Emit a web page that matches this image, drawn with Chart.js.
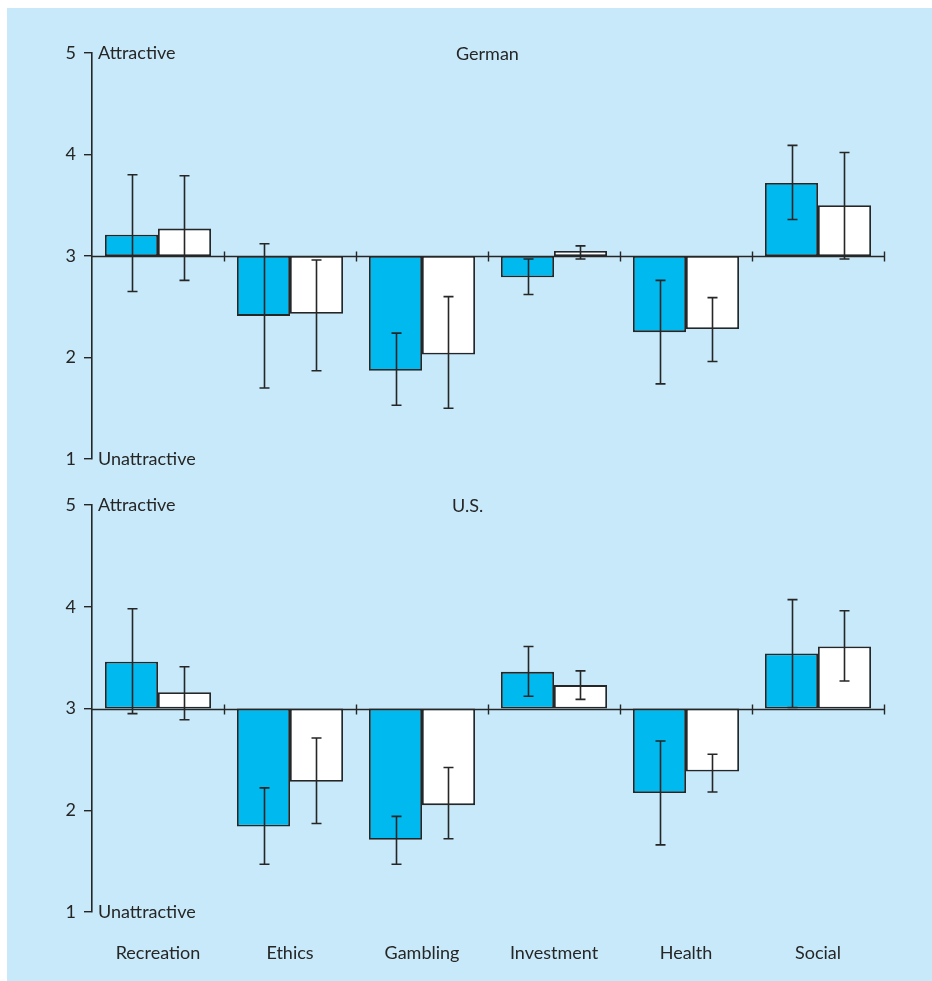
<!DOCTYPE html>
<html>
<head>
<meta charset="utf-8">
<script src="https://cdn.jsdelivr.net/npm/chart.js@4.4.1/dist/chart.umd.min.js"></script>
<style>
  html, body { margin: 0; padding: 0; background: #ffffff; }
  body { width: 932px; height: 981px; position: relative; overflow: hidden; }
  #panel { position: absolute; left: 7px; top: 8px; right: 0; bottom: 0; background: #c7e9f9; }
  .box { position: absolute; left: 0; width: 932px; }
  #boxTop { top: 0; height: 490px; }
  #boxBottom { top: 480px; height: 501px; }
</style>
</head>
<body>
<div id="panel"></div>
<div class="box" id="boxTop"><canvas id="chartGerman"></canvas></div>
<div class="box" id="boxBottom"><canvas id="chartUS"></canvas></div>
<script>
// Activity categories along the horizontal axis
const categories = ['Recreation', 'Ethics', 'Gambling', 'Investment', 'Health', 'Social'];
// Rating scale ticks (1 = unattractive, 5 = attractive, neutral midpoint 3)
const scaleTicks = [1, 2, 3, 4, 5];
const scaleMid = 3;

// German sample: mean ratings with lower / upper error limits
const germanBlue      = [3.21, 2.41, 1.87, 2.79, 2.25, 3.72];
const germanBlueLow   = [2.65, 1.70, 1.53, 2.62, 1.74, 3.36];
const germanBlueHigh  = [3.80, 3.12, 2.24, 2.97, 2.76, 4.09];
const germanWhite     = [3.27, 2.43, 2.03, 3.05, 2.28, 3.50];
const germanWhiteLow  = [2.76, 1.87, 1.50, 2.97, 1.96, 2.97];
const germanWhiteHigh = [3.79, 2.96, 2.60, 3.10, 2.59, 4.02];

// U.S. sample
const usBlue      = [3.46, 1.84, 1.71, 3.36, 2.17, 3.54];
const usBlueLow   = [2.95, 1.47, 1.47, 3.12, 1.66, 3.01];
const usBlueHigh  = [3.98, 2.22, 1.94, 3.61, 2.68, 4.07];
const usWhite     = [3.16, 2.28, 2.05, 3.23, 2.38, 3.61];
const usWhiteLow  = [2.89, 1.87, 1.72, 3.09, 2.18, 3.27];
const usWhiteHigh = [3.41, 2.71, 2.42, 3.37, 2.55, 3.96];

const INK = '#262626';
const FONT = 'Lato, "Open Sans", sans-serif';

// Bars float from the neutral midpoint to the mean
const fromMid = arr => arr.map(v => [scaleMid, v]);

// Error bars with caps, drawn over the bars
const errorBars = {
  id: 'errorBars',
  afterDatasetsDraw(chart) {
    const { ctx } = chart;
    const y = chart.scales.y;
    chart.data.datasets.forEach((ds, di) => {
      const meta = chart.getDatasetMeta(di);
      meta.data.forEach((bar, i) => {
        const x = Math.round(bar.x) + 0.5;
        const yl = y.getPixelForValue(ds.errLow[i]);
        const yh = y.getPixelForValue(ds.errHigh[i]);
        ctx.save();
        ctx.strokeStyle = INK;
        ctx.lineWidth = 1.6;
        ctx.beginPath();
        ctx.moveTo(x, yh); ctx.lineTo(x, yl);
        ctx.moveTo(x - 5, yh); ctx.lineTo(x + 5, yh);
        ctx.moveTo(x - 5, yl); ctx.lineTo(x + 5, yl);
        ctx.stroke();
        ctx.restore();
      });
    });
  }
};

// Midpoint baseline ticks at category boundaries, anchor words and panel title
const decorations = {
  id: 'decorations',
  afterDatasetsDraw(chart, args, opts) {
    const { ctx, chartArea } = chart;
    const x = chart.scales.x, y = chart.scales.y;
    const y3 = Math.round(y.getPixelForValue(scaleMid)) + 0.5;
    ctx.save();
    ctx.strokeStyle = INK;
    ctx.lineWidth = 1.4;
    // baseline across the plot at the midpoint
    ctx.beginPath();
    ctx.moveTo(chartArea.left, y3); ctx.lineTo(chartArea.right, y3);
    ctx.stroke();
    const half = (x.getPixelForValue(1) - x.getPixelForValue(0)) / 2;
    ctx.beginPath();
    for (let i = 0; i < categories.length; i++) {
      const bx = Math.round(x.getPixelForValue(i) + half) + 0.5;
      ctx.moveTo(bx, y3 - 5); ctx.lineTo(bx, y3 + 5);
    }
    ctx.stroke();
    ctx.fillStyle = INK;
    ctx.font = '18px ' + FONT;
    ctx.textBaseline = 'middle';
    ctx.textAlign = 'left';
    ctx.fillText('Attractive', chartArea.left + 6, y.getPixelForValue(5));
    ctx.fillText('Unattractive', chartArea.left + 6, y.getPixelForValue(1));
    ctx.fillText(opts.title, opts.titleX, y.getPixelForValue(5) + 1);
    ctx.restore();
  }
};

function makeChart(canvasId, title, titleX, blue, blueLow, blueHigh, white, whiteLow, whiteHigh, showLabels, pad) {
  return new Chart(document.getElementById(canvasId), {
    type: 'bar',
    data: {
      labels: categories,
      datasets: [
        {
          data: fromMid(blue), errLow: blueLow, errHigh: blueHigh,
          backgroundColor: '#00b9ef', borderColor: INK, borderWidth: 1.8, borderSkipped: false
        },
        {
          data: fromMid(white), errLow: whiteLow, errHigh: whiteHigh,
          backgroundColor: '#ffffff', borderColor: INK, borderWidth: 1.8, borderSkipped: false
        }
      ]
    },
    options: {
      responsive: true,
      maintainAspectRatio: false,
      animation: false,
      layout: { padding: pad },
      datasets: { bar: { categoryPercentage: 0.803, barPercentage: 1.0 } },
      plugins: {
        legend: { display: false },
        tooltip: { enabled: false },
        decorations: { title: title, titleX: titleX }
      },
      scales: {
        x: {
          display: showLabels,
          offset: true,
          grid: { display: false, drawTicks: false },
          border: { display: false },
          ticks: { color: INK, font: { family: FONT, size: 18 }, padding: 30, maxRotation: 0 },
          afterFit: s => { s.height = showLabels ? 69 : 0; }
        },
        y: {
          min: 1, max: 5,
          afterBuildTicks: s => { s.ticks = scaleTicks.map(v => ({ value: v })); },
          grid: { drawOnChartArea: false, tickLength: 8, color: INK, tickColor: INK, lineWidth: 1.4 },
          border: { display: true, color: INK, width: 1.6 },
          ticks: { color: INK, font: { family: FONT, size: 18 }, padding: 8 },
          afterFit: s => { s.width = 92; }
        }
      }
    },
    plugins: [errorBars, decorations]
  });
}

makeChart('chartGerman', 'German', 456, germanBlue, germanBlueLow, germanBlueHigh,
  germanWhite, germanWhiteLow, germanWhiteHigh, false, { top: 53, right: 48, bottom: 31, left: 0 });
makeChart('chartUS', 'U.S.', 452, usBlue, usBlueLow, usBlueHigh,
  usWhite, usWhiteLow, usWhiteHigh, true, { top: 25, right: 48, bottom: 0, left: 0 });
</script>
</body>
</html>
